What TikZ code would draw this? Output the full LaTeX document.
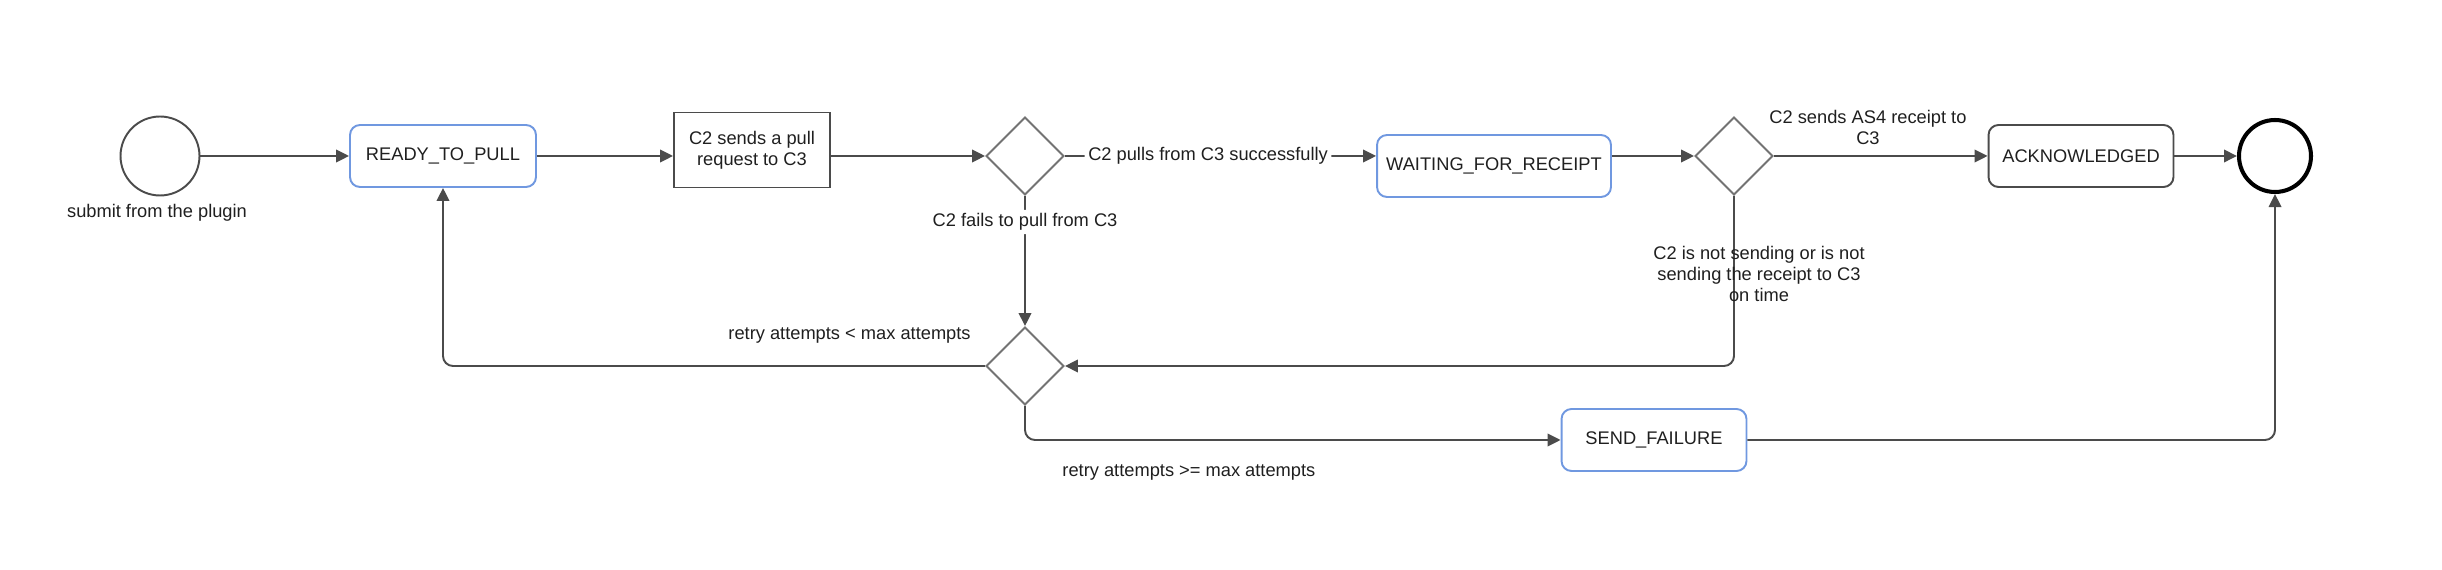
\documentclass[tikz,border=0pt]{standalone}
\usepackage{fontspec}
\setmainfont{Liberation Sans}
\usetikzlibrary{shapes.geometric,arrows.meta}
\definecolor{stateblue}{RGB}{112,152,224}
\definecolor{linegray}{RGB}{75,75,75}
\definecolor{diagray}{RGB}{115,115,115}
\begin{document}
\begin{tikzpicture}[x=0.02cm,y=-0.02cm]
        \tikzstyle{every node}+=[inner sep=0pt,font=\fontsize{10.4}{12}\selectfont,text=black!88]
        \tikzstyle{flow}=[draw=linegray,line width=1.1pt,rounded corners=0.2cm,-{Triangle[length=0.26cm,width=0.25cm]}]
        \tikzstyle{state}=[draw=stateblue,line width=1.1pt,rounded corners=0.2cm,minimum height=1.24cm]
        \tikzstyle{choice}=[diamond,draw=diagray,line width=1.1pt,minimum width=1.56cm,minimum height=1.56cm]
        \tikzstyle{lbl}=[fill=white,inner sep=2pt]
        \useasboundingbox (0,0) rectangle (2442,570);
        \node [circle,draw=linegray,line width=1.1pt,minimum size=1.58cm] (submit) at (160,156) {};
        \node (submitlbl) at (157,213) {submit from the plugin};
        \node [state,minimum width=3.72cm] (ready) at (443,156) {READY\_TO\_PULL};
        \node [draw=linegray,line width=1.1pt,minimum width=3.12cm,minimum height=1.5cm,align=center] (req) at (752,150) {C2 sends a pull\\request to C3};
        \node [choice] (chk1) at (1025,156) {};
        \node [state,minimum width=4.68cm] (wait) at (1494,166) {WAITING\_FOR\_RECEIPT};
        \node [choice] (chk2) at (1734,156) {};
        \node [state,draw=linegray,minimum width=3.7cm] (ack) at (2081,156) {ACKNOWLEDGED};
        \node [circle,draw=black,line width=2.3pt,minimum size=1.44cm] (done) at (2275,156) {};
        \node [choice] (chk3) at (1025,366) {};
        \node [state,minimum width=3.7cm] (fail) at (1654,440) {SEND\_FAILURE};
        \draw [flow] (submit) -- (ready);
        \draw [flow] (ready) -- (req.west |- ready);
        \draw [flow] (req.east |- chk1) -- (chk1);
        \draw [flow] (chk1) -- node [lbl,pos=0.46] (pulledlbl) {C2 pulls from C3 successfully} (wait.west |- chk1);
        \draw [flow] (wait.east |- chk2) -- (chk2);
        \draw [flow] (chk2) -- node [pos=0.44,yshift=0.57cm,align=center] (sentlbl) {C2 sends AS4 receipt to\\C3} (ack);
        \draw [flow] (ack) -- (done);
        \draw [flow] (chk1) -- node [lbl,pos=0.2] (faillbl) {C2 fails to pull from C3} (chk3);
        \draw [flow] (chk2) |- node [pos=0.23,xshift=0.5cm,align=center] (latelbl) {C2 is not sending or is not\\sending the receipt to C3\\on time} (chk3);
        \draw [flow] (chk3) -| node [pos=0.125,yshift=0.62cm] (retrylbl) {retry attempts < max attempts} (ready);
        \draw [flow] (chk3) |- node [pos=0.653,yshift=-0.64cm] (giveuplbl) {retry attempts >= max attempts} (fail);
        \draw [flow] (fail) -| (done);
\end{tikzpicture}
\end{document}
